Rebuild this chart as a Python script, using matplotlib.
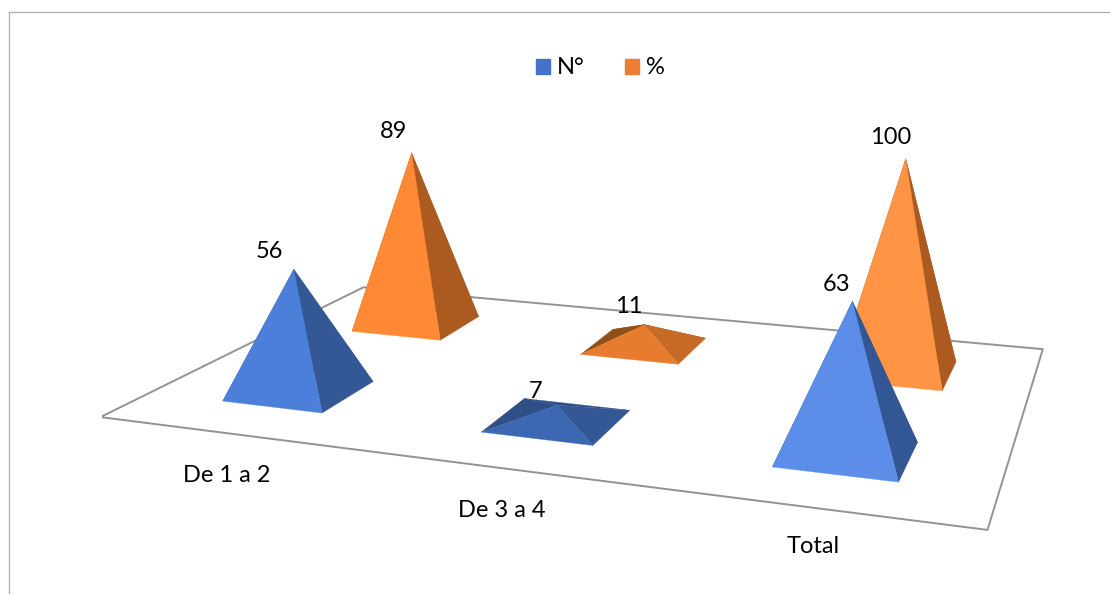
import matplotlib
matplotlib.use("Agg")
import matplotlib.pyplot as plt
from matplotlib.lines import Line2D
from matplotlib.patches import Rectangle
from mpl_toolkits.mplot3d import proj3d
from mpl_toolkits.mplot3d.art3d import Poly3DCollection

categories = ["De 1 a 2", "De 3 a 4", "Total"]
series_names = ["N°", "%"]
n_values = [56, 7, 63]
pct_values = [89, 11, 100]

W, H = 1110, 594
half_x, half_y = 0.199, 0.198

# face shades for each pyramid: front, right, left and back
n_shades = [("#4b7fda", "#345895", "#345895"),
            ("#3c67b2", "#345895", "#2f4f87"),
            ("#5c8ee9", "#335795", "#335795")]
pct_shades = [("#ff8935", "#ab5a20", "#ab5a20"),
              ("#e87c2e", "#c66a26", "#8e4f19"),
              ("#ff9544", "#ab5b20", "#ab5b20")]

# pixel shift of the labels from the pyramid tips and the floor edge
n_label_shift = [(-24, 17), (-21, 13), (-15, 16)]
pct_label_shift = [(-18, 21), (-15.5, 18), (-15, 21)]
cat_label_shift = [(1, -43), (0, -43), (-1, -39)]

plt.rcParams["font.family"] = ["Lato", "DejaVu Sans"]
plt.rcParams["font.size"] = 17

fig = plt.figure(figsize=(W / 100, H / 100), dpi=100)

# 3d axes is a big square, centred so the floor lands where it should
side = 976.5
ax = fig.add_axes([(590.31 - side / 2) / W, (H - 287.07 - side / 2) / H, side / W, side / H],
                  projection="3d")
ax.set_xlim(0, 3)
ax.set_ylim(0, 2)
ax.set_zlim(0, 100)
ax.view_init(13.689, -70.724, -0.054)
ax.set_proj_type("persp", focal_length=0.3063)
ax.set_box_aspect((1.5441, 1.0, 0.4176))
ax.set_axis_off()
ax.computed_zorder = False
M = ax.get_proj()


def project(x, y, z):
    px, py, _ = proj3d.proj_transform(x, y, z, M)
    return px, py


def add_face(verts, color, order):
    poly = Poly3DCollection([verts], facecolors=color, edgecolors=color, linewidths=0.2, zorder=order)
    ax.add_collection3d(poly)


def pyramid(cat, row, value, shades, order):
    cx, cy = cat + 0.5, row + 0.5
    tip = (cx, cy, value)
    fl = (cx - half_x, cy - half_y, 0)
    fr = (cx + half_x, cy - half_y, 0)
    br = (cx + half_x, cy + half_y, 0)
    bl = (cx - half_x, cy + half_y, 0)
    front, right, rear = shades
    add_face([bl, br, tip], rear, order)
    add_face([fl, bl, tip], rear, order + 1)
    add_face([fr, br, tip], right, order + 2)
    add_face([fl, fr, tip], front, order + 3)


# floor
floor = Poly3DCollection([[(0, 0, 0), (3, 0, 0), (3, 2, 0), (0, 2, 0)]], facecolors="white",
                         edgecolors="#939393", linewidths=1.4, zorder=1)
ax.add_collection3d(floor)

# % row sits behind the N° row
for i, v in enumerate(pct_values):
    pyramid(i, 1, v, pct_shades[i], 10 + i * 5)
for i, v in enumerate(n_values):
    pyramid(i, 0, v, n_shades[i], 40 + i * 5)

for row, vals, shifts in ((0, n_values, n_label_shift), (1, pct_values, pct_label_shift)):
    for i, v in enumerate(vals):
        ax.annotate(str(v), xy=project(i + 0.5, row + 0.5, v), xycoords="data",
                    xytext=shifts[i], textcoords="offset pixels",
                    ha="center", va="center", color="black", zorder=100)

for i, name in enumerate(categories):
    ax.annotate(name, xy=project(i + 0.5, 0, 0), xycoords="data",
                xytext=cat_label_shift[i], textcoords="offset pixels",
                ha="center", va="center", color="black", zorder=100)

# chart border, only left and top fall inside the image
fig.add_artist(Line2D([8.5 / W, 8.5 / W], [0, 1 - 11.5 / H], color="#ababab", lw=0.9))
fig.add_artist(Line2D([8.5 / W, 1], [1 - 11.5 / H, 1 - 11.5 / H], color="#ababab", lw=0.9))

handles = [Rectangle((0, 0), 1, 1, color="#4472c4"), Rectangle((0, 0), 1, 1, color="#ed7d31")]
fig.legend(handles, series_names, ncol=2, frameon=False, loc="center",
           bbox_to_anchor=(600.5 / W, 1 - 68 / H), handlelength=0.6, handleheight=0.6,
           handletextpad=0.3, columnspacing=1.7, borderpad=0)

fig.savefig("out.png", dpi=100)
